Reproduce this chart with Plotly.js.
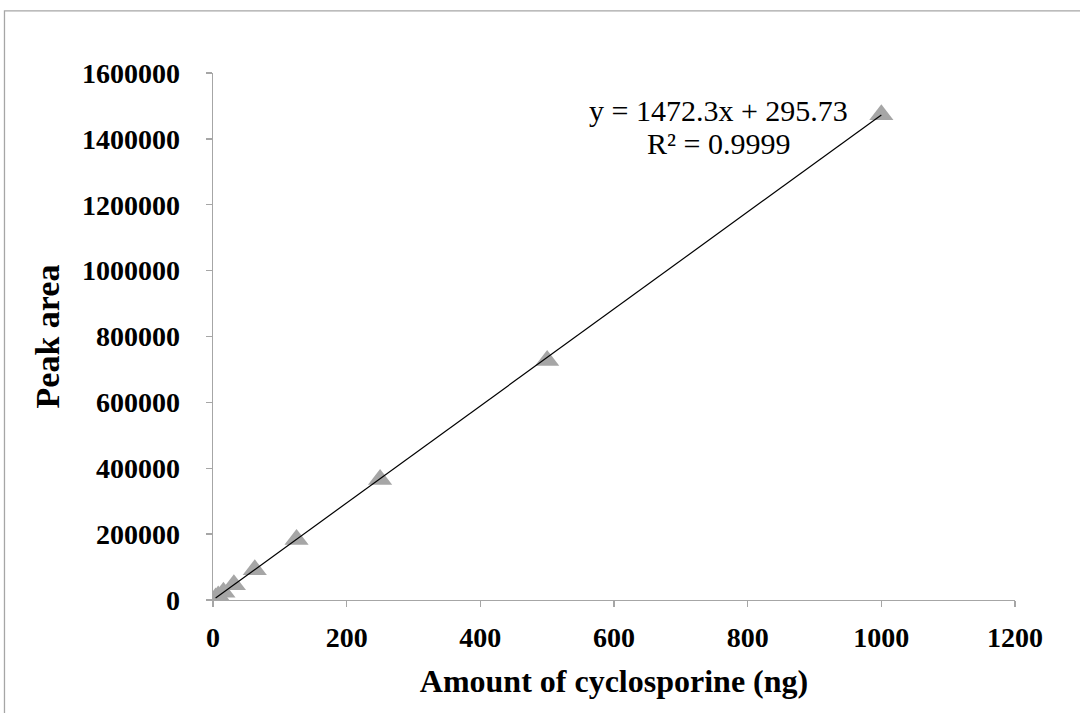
<!DOCTYPE html>
<html>
<head>
<meta charset="utf-8">
<script src="https://cdn.plot.ly/plotly-3.0.1.min.js"></script>
<style>html,body{margin:0;padding:0;background:#fff;}#chart{width:1080px;height:713px;}</style>
</head>
<body>
<div id="chart"></div>
<script>
// Data
const amountNg = [3.9, 7.8, 15.6, 31.25, 62.5, 125, 250, 500, 1000];
const peakArea = [5900, 11800, 23200, 46500, 92000, 184000, 366000, 727000, 1473000];
// Trendline endpoints (from the printed fit y = 1472.3x + 295.73)
const trendX = [3.9, 1000];
const trendY = [6038, 1472596];
const yTicks = [0, 200000, 400000, 600000, 800000, 1000000, 1200000, 1400000, 1600000];
const xTicks = [0, 200, 400, 600, 800, 1000, 1200];
const eqLine1 = 'y = 1472.3x + 295.73';
const eqLine2 = 'R² = 0.9999';

const axisColor = '#a6a6a6';
const fontFam = '"Liberation Serif", "Times New Roman", serif';

const traces = [
  {
    x: amountNg, y: peakArea, type: 'scatter', mode: 'markers',
    marker: {symbol: 'triangle-up', size: 21, color: '#a6a6a6', line: {width: 0}},
    showlegend: false, hoverinfo: 'skip'
  },
  {
    x: trendX, y: trendY, type: 'scatter', mode: 'lines',
    line: {color: '#000000', width: 1.2},
    showlegend: false, hoverinfo: 'skip'
  }
];

const layout = {
  width: 1080, height: 713,
  margin: {l: 213, r: 65, t: 73, b: 113, pad: 0},
  paper_bgcolor: '#ffffff', plot_bgcolor: '#ffffff',
  font: {family: fontFam, color: '#000000'},
  xaxis: {
    range: [0, 1200], tickvals: xTicks, ticktext: xTicks.map(String),
    showgrid: false, zeroline: false, showline: true, linecolor: axisColor, linewidth: 1.3,
    ticks: 'outside', ticklen: 6, tickcolor: axisColor, tickwidth: 1.3,
    ticklabelstandoff: 6,
    tickfont: {family: fontFam, size: 28, color: '#000000', weight: 'bold'},
    title: {text: '<b>Amount of cyclosporine (ng)</b>', font: {family: fontFam, size: 32, color: '#000000'}, standoff: 17}
  },
  yaxis: {
    range: [0, 1600000], tickvals: yTicks, ticktext: yTicks.map(String),
    showgrid: false, zeroline: false, showline: true, linecolor: axisColor, linewidth: 1.3,
    ticks: 'outside', ticklen: 6, tickcolor: axisColor, tickwidth: 1.3,
    ticklabelstandoff: 20,
    tickfont: {family: fontFam, size: 28, color: '#000000', weight: 'bold'},
    title: {text: '<b>Peak area</b>', font: {family: fontFam, size: 34, color: '#000000'}, standoff: 12}
  },
  annotations: [
    {x: 757, y: 1487000, xref: 'x', yref: 'y', text: eqLine1, showarrow: false, borderpad: 0,
     xanchor: 'center', yanchor: 'middle', font: {family: fontFam, size: 30, color: '#000000'}},
    {x: 757, y: 1385000, xref: 'x', yref: 'y', text: eqLine2, showarrow: false, borderpad: 0,
     xanchor: 'center', yanchor: 'middle', font: {family: fontFam, size: 30, color: '#000000'}}
  ],
  shapes: [{
    type: 'rect', xref: 'paper', yref: 'paper',
    x0: -0.26, x1: 1.1, y0: -0.25, y1: 1.1177,
    line: {color: '#a6a6a6', width: 1.3}, fillcolor: 'rgba(0,0,0,0)', layer: 'below'
  }]
};

Plotly.newPlot('chart', traces, layout, {displayModeBar: false, staticPlot: true});
</script>
</body>
</html>
